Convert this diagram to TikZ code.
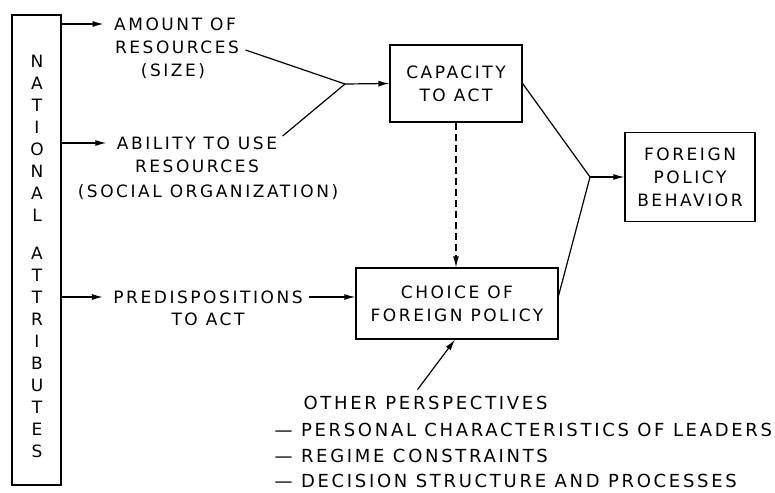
\documentclass[tikz,border=0pt]{standalone}
\usepackage{fontspec}
\setmainfont{DejaVu Sans}[LetterSpace=15]
\usetikzlibrary{arrows.meta,calc}
\begin{document}
\begin{tikzpicture}[x=1pt,y=-1pt, line width=1.2pt,
  lbl/.style={font=\fontsize{17}{20}\selectfont, inner sep=0pt},
  lblb/.style={font=\fontsize{18}{20}\selectfont, inner sep=0pt, anchor=west},
  box/.style={draw, rectangle, inner sep=0pt, align=center, font=\fontsize{17}{23}\selectfont},
  arr/.style={-{Latex[length=11pt,width=6pt]}}]
\useasboundingbox (0,0) rectangle (775,492);

% national attributes
\node[draw, rectangle, minimum width=49pt, minimum height=470pt, inner sep=0pt] (nat) at (36.5,250) {};
\node[align=center, inner sep=0pt, font=\fontsize{17}{22}\selectfont] (natlbl) at (37,256)
  {N\\A\\T\\I\\O\\N\\A\\L\\[16pt]A\\T\\T\\R\\I\\B\\U\\T\\E\\S};

% text blocks
\node[lbl] (amt1) at (175,24) {AMOUNT OF};
\node[lbl] (amt2) at (177,47) {RESOURCES};
\node[lbl] (amt3) at (173,71) {(SIZE)};
\node[lbl] (abl1) at (197,143) {ABILITY TO USE};
\node[lbl] (abl2) at (197,166) {RESOURCES};
\node[lbl] (abl3) at (208,192) {(SOCIAL ORGANIZATION)};
\node[lbl] (pre1) at (208,297) {PREDISPOSITIONS};
\node[lbl] (pre2) at (208,319) {TO ACT};

% boxes
\node[box, minimum width=132pt, minimum height=77pt] (cap) at (456,83.5) {CAPACITY\\TO ACT};
\node[box, minimum width=202pt, minimum height=71pt] (choice) at (457,303.5) {CHOICE OF\\FOREIGN POLICY};
\node[box, minimum width=130pt, minimum height=89pt] (fpb) at (690,177) {FOREIGN\\POLICY\\BEHAVIOR};

% other perspectives
\node[lblb] (op) at (303,403) {OTHER PERSPECTIVES};
\node[lblb] (op1) at (274,430) {— PERSONAL CHARACTERISTICS OF LEADERS};
\node[lblb] (op2) at (274,456) {— REGIME CONSTRAINTS};
\node[lblb] (op3) at (274,481) {— DECISION STRUCTURE AND PROCESSES};

% connectors
\coordinate (m1) at (345,84);
\coordinate (m2) at (590,177);

\draw[arr] (nat.east |- amt1) -- ([xshift=-10pt]amt1.west);
\draw[arr] (nat.east |- abl1) -- ([xshift=-10pt]abl1.west);
\draw[arr] (nat.east |- pre1) -- ([xshift=-10pt]pre1.west);

\draw ([xshift=6pt,yshift=-3pt]amt2.east) -- (m1);
\draw ([xshift=5pt]abl1.north east) -- (m1);
\draw[arr] (m1) -- (cap.west);

\draw (cap.east) -- (m2);
\draw ([yshift=8pt]choice.east) -- (m2);
\draw[arr] (m2) -- (fpb.west);

\draw[arr, dash pattern=on 7pt off 4pt] (cap.south) -- (cap.south |- choice.north);
\draw[arr] ([xshift=6pt]pre1.east) -- (pre1.east -| choice.west);
\draw[arr] ([shift={(-8pt,6pt)}]op.north) -- ([xshift=-2pt]choice.south);
\end{tikzpicture}
\end{document}
